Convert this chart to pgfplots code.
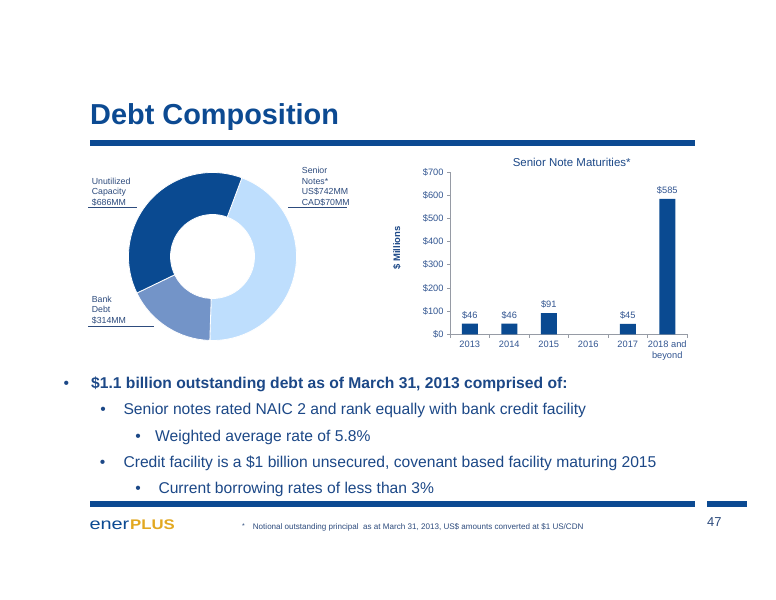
\documentclass[border=0pt]{standalone}
\usepackage{pgfplots}
\pgfplotsset{compat=1.18}
\usepackage{pgfplotstable}
\usepackage{graphicx}
\usepackage{fontspec}
\setmainfont{Liberation Sans}

\definecolor{enblue}{RGB}{12,74,146}
\definecolor{endark}{RGB}{10,74,145}
\definecolor{enmid}{RGB}{115,148,200}
\definecolor{enlight}{RGB}{190,222,253}
\definecolor{entext}{RGB}{28,72,135}
\definecolor{enlabel}{RGB}{45,75,125}
\definecolor{ticklab}{RGB}{50,85,145}
\definecolor{engold}{RGB}{226,168,32}
\definecolor{enaxis}{RGB}{150,155,165}

% senior note maturities ($ millions), 2016 has none
\pgfplotstableread{
idx value
0 46
1 46
2 91
4 45
5 585
}\maturities

% debt composition ($MM), senior notes = 742 + 70
\pgfplotstableread{
part value
senior 812
bank 314
unused 686
}\debt

\pgfplotstablegetelem{0}{value}\of\debt \let\vSenior\pgfplotsretval
\pgfplotstablegetelem{1}{value}\of\debt \let\vBank\pgfplotsretval
\pgfplotstablegetelem{2}{value}\of\debt \let\vUnused\pgfplotsretval
\pgfmathsetmacro\tot{\vSenior+\vBank+\vUnused}
\pgfmathsetmacro\aA{69.5}
\pgfmathsetmacro\aB{\aA-360*(\vSenior/\tot)}
\pgfmathsetmacro\aC{\aB-360*(\vBank/\tot)}
\pgfmathsetmacro\aD{\aC-360*(\vUnused/\tot)}

% one ring segment, clockwise from #2 to #3
\newcommand\donutpart[3]{%
  \fill[#1, draw=white, line width=0.8bp]
    (axis cs:{cos(#2)},{sin(#2)}) arc[start angle=#2, end angle=#3, radius=84bp]
    -- (axis cs:{0.5*cos(#3)},{0.5*sin(#3)}) arc[start angle=#3, end angle=#2, radius=42bp]
    -- cycle;}

\newcommand\lbl[3]{\node[anchor=base west, inner sep=0pt, text=enlabel,
  font=\fontsize{8.8}{10}\selectfont] at (#1,#2) {#3};}

\begin{document}
\begin{tikzpicture}[x=1bp,y=1bp]
\path[use as bounding box, fill=white] (0,0) rectangle (776,600);

% --- header ---
\node[anchor=base west, inner sep=0pt, text=enblue,
  font=\fontsize{29}{30}\selectfont\bfseries] at (90,475) {Debt Composition};
\fill[enblue] (90,454) rectangle (695,460);

% --- donut ---
\begin{axis}[
  at={(128.5bp,259.5bp)}, anchor=south west,
  scale only axis, width=168bp, height=168bp,
  xmin=-1, xmax=1, ymin=-1, ymax=1,
  hide axis, clip=false]
\donutpart{enlight}{\aA}{\aB}
\donutpart{enmid}{\aB}{\aC}
\donutpart{endark}{\aC}{\aD}
\end{axis}

\lbl{91.7}{415.6}{Unutilized}
\lbl{91.7}{405}{Capacity}
\lbl{91.7}{394.4}{\$686MM}
\draw[enlabel, line width=0.8bp] (88,392.5) -- (137,392.5);

\lbl{301.7}{426.2}{Senior}
\lbl{301.7}{415.6}{Notes*}
\lbl{301.7}{405}{US\$742MM}
\lbl{301.7}{394.4}{CAD\$70MM}
\draw[enlabel, line width=0.8bp] (288,392.5) -- (347,392.5);

\lbl{91.7}{297.6}{Bank}
\lbl{91.7}{287}{Debt}
\lbl{91.7}{276.4}{\$314MM}
\draw[enlabel, line width=0.8bp] (88,273.3) -- (154,273.3);

% --- senior note maturities ---
\begin{axis}[
  at={(450bp,265.7bp)}, anchor=south west,
  scale only axis, width=237bp, height=162bp,
  xmin=-0.5, xmax=5.5, ymin=0, ymax=700,
  axis x line*=bottom, axis y line*=left,
  axis line style={enaxis, line width=0.8bp, -},
  ybar, bar width=16bp,
  ytick={0,100,...,700},
  yticklabel={\$\pgfmathprintnumber{\tick}},
  /pgf/number format/assume math mode=true,
  xtick={0,...,5},
  xticklabels={2013,2014,2015,2016,2017,{2018 and\\beyond}},
  x tick label style={align=center},
  major x tick style={draw=none},
  minor xtick={-0.5,0.5,...,5.5},
  tick align=outside,
  major tick length=3bp, minor tick length=3.5bp,
  tick style={enaxis, line width=0.8bp},
  tick label style={font=\fontsize{9.3}{10.7}\selectfont, text=ticklab},
  ylabel={\$ Millions},
  ylabel style={at={(axis description cs:-0.2236,0.533)}, anchor=center,
    font=\fontsize{9.5}{11}\selectfont\bfseries, text=entext},
  title={Senior Note Maturities*},
  title style={at={(axis description cs:0.5135,1.0247)}, anchor=center,
    font=\fontsize{11.5}{13}\selectfont, text=entext},
  nodes near coords={\$\pgfmathprintnumber{\pgfplotspointmeta}},
  every node near coord/.append style={font=\fontsize{9.3}{11}\selectfont,
    text=ticklab, anchor=center, yshift=8.6bp},
]
\addplot[fill=endark, draw=none] table[x=idx, y=value] {\maturities};
\end{axis}

% --- bullets ---
\begin{scope}[every node/.style={anchor=base west, inner sep=0pt, text=entext,
    font=\fontsize{15.7}{17}\selectfont}]
\node at (63.5,211) {•};
\node[font=\fontsize{15.7}{17}\selectfont\bfseries] at (91,211)
  {\$1.1 billion outstanding debt as of March 31, 2013 comprised of:};
\node at (100.2,185) {•};
\node at (123.3,185) {Senior notes rated NAIC 2 and rank equally with bank credit facility};
\node at (135.2,158.3) {•};
\node at (155,158.3) {Weighted average rate of 5.8\%};
\node at (99.6,132.3) {•};
\node at (123.3,132.3) {Credit facility is a \$1 billion unsecured, covenant based facility maturing 2015};
\node at (135.2,106.7) {•};
\node at (158.3,106.7) {Current borrowing rates of less than 3\%};
\end{scope}

% --- footer ---
\fill[enblue] (90,93.3) rectangle (695,99);
\fill[enblue] (707,93.3) rectangle (747,99);
\node[anchor=base west, inner sep=0pt, text=enblue] at (89.3,70)
  {\scalebox{1.25}[1]{\fontsize{16}{18}\selectfont ener}};
\node[anchor=base west, inner sep=0pt, text=engold] at (130,70)
  {\scalebox{1.2}[1]{\fontsize{14}{16}\selectfont\bfseries PLUS}};
\node[anchor=base west, inner sep=0pt, text=enlabel, font=\fontsize{7}{8}\selectfont]
  at (242,71) {*};
\node[anchor=base west, inner sep=0pt, text=enlabel, font=\fontsize{8.1}{9}\selectfont]
  at (252.7,70) {Notional outstanding principal\ \ as at March 31, 2013, US\$ amounts converted at \$1 US/CDN};
\node[anchor=base west, inner sep=0pt, text=enlabel, font=\fontsize{13}{15}\selectfont]
  at (707,73) {47};
\end{tikzpicture}
\end{document}
